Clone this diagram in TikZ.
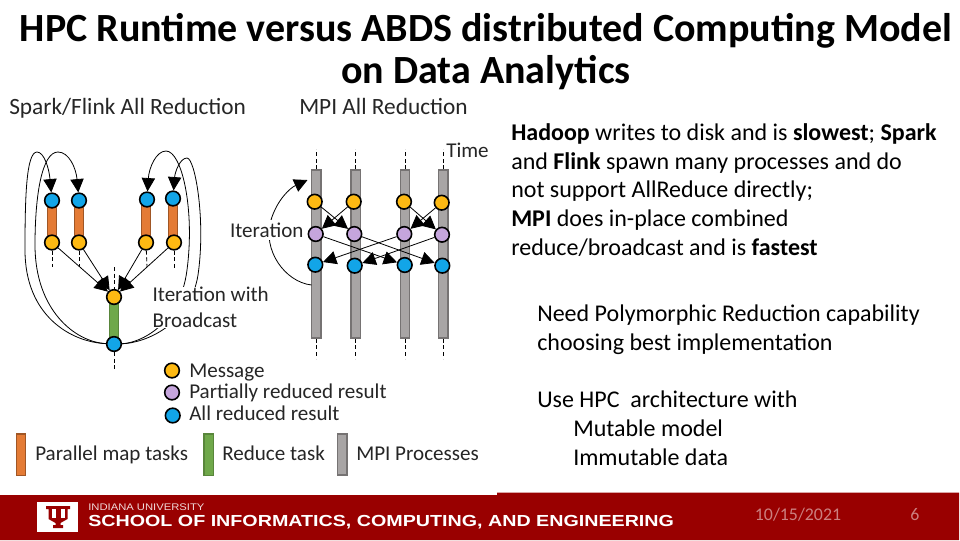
\documentclass[tikz,border=0pt]{standalone}
\usepackage{fontspec}
\setmainfont{Carlito}
\newfontfamily\footfont{Liberation Sans}
\usetikzlibrary{arrows.meta}
\definecolor{footred}{HTML}{990000}
\definecolor{msgyellow}{HTML}{FDB913}
\definecolor{partpurple}{HTML}{C5A5DC}
\definecolor{allblue}{HTML}{12A5E8}
\definecolor{maporange}{HTML}{E47B35}
\definecolor{reducegreen}{HTML}{6FA84A}
\definecolor{mpigray}{HTML}{A8A5A5}
\tikzset{
	msg/.style={circle,draw=black,line width=1.2pt,fill=msgyellow,minimum size=11pt,inner sep=0pt},
	part/.style={msg,fill=partpurple},
	allres/.style={msg,fill=allblue},
	flow/.style={-{Triangle[length=10pt,width=10pt]},line width=0.6pt},
	tick/.style={densely dashed,line width=0.6pt},
	maptask/.style={draw=maporange!70!black,line width=1pt,fill=maporange,minimum width=7pt,inner sep=0pt},
	reducetask/.style={draw=reducegreen!80!black,line width=1pt,fill=reducegreen,minimum width=7pt,inner sep=0pt},
	mpibar/.style={draw=mpigray!70!black,line width=1.2pt,fill=mpigray,minimum width=7pt,inner sep=0pt},
	label/.style={inner sep=0pt,font=\fontsize{15.8pt}{15.8pt}\selectfont,text=black!85},
	linelabel/.style={label,text height=13pt,text depth=2pt},
	panelhead/.style={linelabel,font=\fontsize{17.5pt}{17.5pt}\selectfont},
	body/.style={inner sep=0pt,anchor=base west,font=\fontsize{18pt}{18pt}\selectfont},
}
\begin{document}
\begin{tikzpicture}[x=0.75pt,y=-0.75pt]
	\useasboundingbox (0,0) rectangle (960,540);
	\fill[white] (0,0) rectangle (960,540);

	\node[inner sep=0pt,font=\bfseries\fontsize{30pt}{30pt}\selectfont] (title1) at (486,31) {HPC Runtime versus ABDS distributed Computing Model};
	\node[inner sep=0pt,font=\bfseries\fontsize{30pt}{30pt}\selectfont] (title2) at (486,73) {on Data Analytics};

	% left panel
	\node[panelhead,anchor=west] (sparktitle) at (9,107) {Spark/Flink All Reduction};
	\node[maptask,minimum height=31pt] (m1) at (52,222) {};
	\node[maptask,minimum height=31pt] (m2) at (79,222) {};
	\node[maptask,minimum height=31pt] (m3) at (146,221) {};
	\node[maptask,minimum height=31pt] (m4) at (173,221) {};
	\node[reducetask,minimum height=38pt] (r1) at (114,320) {};
	\coordinate (d1) at (52,267);
	\coordinate (d2) at (79,267);
	\coordinate (d3) at (147,267);
	\coordinate (d4) at (174,270);
	\coordinate (d5) at (114,267);
	\coordinate (d6) at (114,369);
	\node[allres] (t1) at (52,200.5) {};
	\node[allres] (t2) at (79,200.5) {};
	\node[allres] (t3) at (147,199.5) {};
	\node[allres] (t4) at (173,198.5) {};
	\node[msg] (y1) at (52,242.5) {};
	\node[msg] (y2) at (79,242.5) {};
	\node[msg] (y3) at (146,242.5) {};
	\node[msg] (y4) at (174,242.5) {};
	\draw[tick] (y1) -- (d1);
	\draw[tick] (y2) -- (d2);
	\draw[tick] (y3) -- (d3);
	\draw[tick] (y4) -- (d4);
	\node[msg] (c1) at (114,297) {};
	\node[allres] (c2) at (114,344) {};
	\draw[tick] (d5) -- (c1);
	\draw[tick] (c2) -- (d6);
	\draw[flow] (y1) -- (c1);
	\draw[flow] (y2) -- (c1);
	\draw[flow] (y3) -- (c1);
	\draw[flow] (y4) -- (c1);
	\draw[flow] (c2) .. controls (70,342) and (25,315) .. (25,250) .. controls (25,200) and (26,152) .. (37,152) .. controls (44,152) and (49,168) .. (t1);
	\draw[flow] (c2) .. controls (75,342) and (35,310) .. (35,245) .. controls (35,195) and (42,152) .. (58,152) .. controls (69,152) and (76,168) .. (t2);
	\draw[flow] (c2) .. controls (140,343) and (180,325) .. (187,270) .. controls (195,210) and (182,151) .. (166,151) .. controls (156,151) and (149,168) .. (t3);
	\draw[flow] (c2) .. controls (145,343) and (190,325) .. (198,275) .. controls (206,220) and (195,158) .. (187,158) .. controls (180,158) and (175,172) .. (t4);
	\node[label,fill=white,anchor=north west,align=left,inner xsep=1pt,font=\fontsize{15.8pt}{19.5pt}\selectfont] (iterbcast) at (151,287) {Iteration with\\Broadcast};

	% right panel
	\node[panelhead,anchor=west] (mpititle) at (299,107) {MPI All Reduction};
	\node[mpibar,minimum height=126pt] (b1) at (316.3,254) {};
	\node[mpibar,minimum height=126pt] (b2) at (355.7,254) {};
	\node[mpibar,minimum height=126pt] (b3) at (405,254) {};
	\node[mpibar,minimum height=126pt] (b4) at (443.3,254) {};
	\draw[tick] (b1.north) -- ++(0,-20);
	\draw[tick] (b2.north) -- ++(0,-20);
	\draw[tick] (b3.north) -- ++(0,-20);
	\draw[tick] (b4.north) -- ++(0,-20);
	\draw[tick] (b1.south) -- ++(0,20);
	\draw[tick] (b2.south) -- ++(0,20);
	\draw[tick] (b3.south) -- ++(0,20);
	\draw[tick] (b4.south) -- ++(0,20);
	\node[msg] (p1) at (314.7,201.7) {};
	\node[msg] (p2) at (353.7,201.7) {};
	\node[msg] (p3) at (404,201.7) {};
	\node[msg] (p4) at (441.7,202.7) {};
	\node[part] (q1) at (315.7,234) {};
	\node[part] (q2) at (354.3,234) {};
	\node[part] (q3) at (404.3,234) {};
	\node[part] (q4) at (442,234.7) {};
	\node[allres] (u1) at (315.3,264.7) {};
	\node[allres] (u2) at (354.7,265.7) {};
	\node[allres] (u3) at (404.7,265) {};
	\node[allres] (u4) at (442.3,265.7) {};
	\draw[flow] (p1) -- (q2);
	\draw[flow] (p2) -- (q1);
	\draw[flow] (p3) -- (q4);
	\draw[flow] (p4) -- (q3);
	\draw[flow] (q1) -- (u3);
	\draw[flow] (q2) -- (u4);
	\draw[flow] (q3) -- (u1);
	\draw[flow] (q4) -- (u2);
	\coordinate (itstart) at (311.5,285);
	\coordinate (itend) at (307.5,180);
	\draw[flow] (itstart) .. controls (285,282) and (262,250) .. (271,220) .. controls (277,200) and (290,188) .. (itend);
	\node[linelabel,fill=white,inner xsep=1pt,anchor=east] (iter) at (305,230) {Iteration};
	\node[linelabel,anchor=west] (timelab) at (446,150) {Time};

	% right text
	\node[body] (h1) at (511,140) {\textbf{Hadoop} writes to disk and is \textbf{slowest}; \textbf{Spark}};
	\node[body] (h2) at (511,169) {and \textbf{Flink} spawn many processes and do};
	\node[body] (h3) at (511,197) {not support AllReduce directly;};
	\node[body] (h4) at (511,226) {\textbf{MPI} does in-place combined};
	\node[body] (h5) at (511,255) {reduce/broadcast and is \textbf{fastest}};
	\node[body] (n1) at (537,321) {Need Polymorphic Reduction capability};
	\node[body] (n2) at (537,350) {choosing best implementation};
	\node[body] (u5) at (537,407) {Use HPC\ \ architecture with};
	\node[body] (u6) at (573,436) {Mutable model};
	\node[body] (u7) at (573,465) {Immutable data};

	% legend
	\node[msg] (lg1) at (172,370.5) {};
	\node[part] (lg2) at (172,392.5) {};
	\node[allres] (lg3) at (172.7,415.5) {};
	\node[linelabel,anchor=west] (lt1) at (189,370) {Message};
	\node[linelabel,anchor=west] (lt2) at (189,391.5) {Partially reduced result};
	\node[linelabel,anchor=west] (lt3) at (189,413) {All reduced result};
	\node[maptask,minimum height=31pt] (lb1) at (21,454.5) {};
	\node[reducetask,minimum height=31pt] (lb2) at (208.8,454.5) {};
	\node[mpibar,minimum height=31pt] (lb3) at (342.3,454.5) {};
	\node[linelabel,anchor=west] (lt4) at (35,453) {Parallel map tasks};
	\node[linelabel,anchor=west] (lt5) at (222,453) {Reduce task};
	\node[linelabel,anchor=west] (lt6) at (356,453) {MPI Processes};

	% footer
	\fill[footred] (0,495) -- (497,495) -- (497,492.5) -- (959,492.5) -- (959,540) -- (0,540) -- cycle;
	\node[fill=white,minimum width=31pt,minimum height=22.5pt,inner sep=0pt] (logo) at (57.5,516.5) {};
	\fill[footred] (46,506) -- (70,506) -- (70,509) -- (67.5,509) -- (67.5,519) -- (60.5,523) -- (60.5,525) -- (63,525) -- (63,528) -- (53,528) -- (53,525) -- (55.5,525) -- (55.5,523) -- (48.5,519) -- (48.5,509) -- (46,509) -- cycle;
	\fill[white] (51.5,509) rectangle (55.5,518);
	\fill[white] (60.5,509) rectangle (64.5,518);
	\node[inner sep=0pt,anchor=west,text=white!85!footred,font=\footfont\fontsize{7.2pt}{7.2pt}\selectfont,xscale=1.17] (iu) at (88,507) {INDIANA UNIVERSITY};
	\node[inner sep=0pt,anchor=west,text=white,font=\footfont\bfseries\fontsize{12pt}{12pt}\selectfont,xscale=1.23] (school) at (88,522) {SCHOOL OF INFORMATICS, COMPUTING, AND ENGINEERING};
	\node[inner sep=0pt,text=white!50!footred,font=\fontsize{13.4pt}{13.4pt}\selectfont] (datelab) at (798,515) {10/15/2021};
	\node[inner sep=0pt,text=white!50!footred,font=\fontsize{13.4pt}{13.4pt}\selectfont] (pagelab) at (915,515) {6};
\end{tikzpicture}
\end{document}
